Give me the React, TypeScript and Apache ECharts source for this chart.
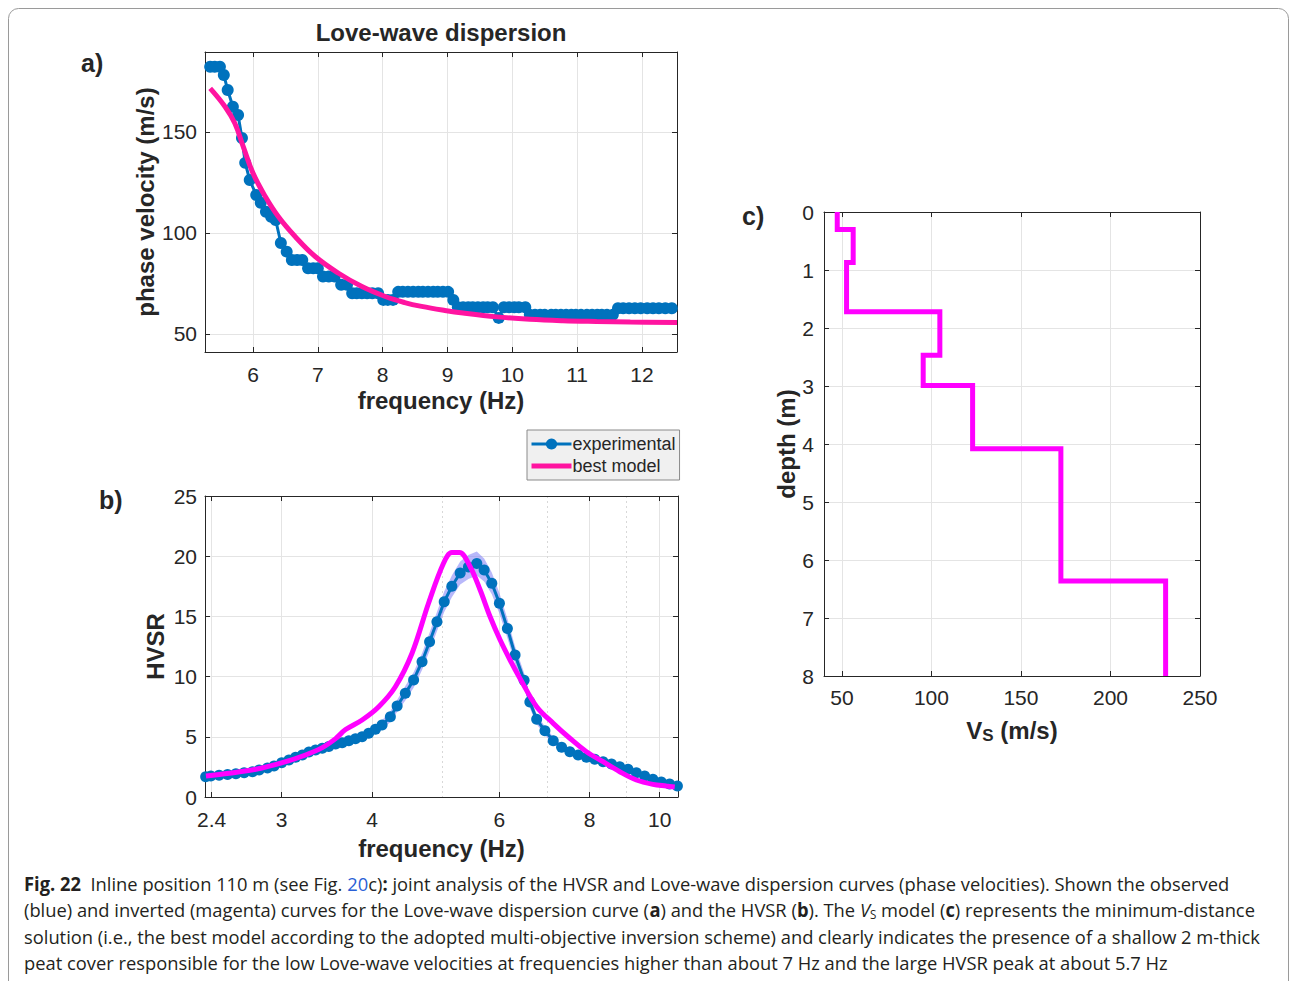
import React, { useEffect, useRef } from "react";
import * as echarts from "echarts";

// ---------- Panel a: Love-wave dispersion ----------
const dispFreq = [5.34, 5.41, 5.49, 5.55, 5.61, 5.69, 5.77, 5.83, 5.88, 5.95, 6.05, 6.12, 6.2, 6.28, 6.35, 6.43, 6.52, 6.6, 6.68, 6.76, 6.85, 6.93, 7.0, 7.08, 7.17, 7.26, 7.36, 7.45, 7.53, 7.6, 7.68, 7.76, 7.84, 7.93, 8.01, 8.08, 8.16, 8.24, 8.31, 8.39, 8.47, 8.55, 8.62, 8.7, 8.78, 8.85, 8.93, 9.01, 9.09, 9.16, 9.24, 9.32, 9.39, 9.47, 9.55, 9.62, 9.7, 9.79, 9.87, 9.95, 10.03, 10.1, 10.2, 10.27, 10.35, 10.43, 10.5, 10.6, 10.67, 10.75, 10.83, 10.91, 10.98, 11.06, 11.15, 11.23, 11.31, 11.38, 11.46, 11.55, 11.63, 11.71, 11.8, 11.89, 11.98, 12.08, 12.17, 12.26, 12.36, 12.46];
const dispVel = [182.3, 182.3, 182.3, 178.2, 170.8, 162.5, 158.4, 147.0, 134.7, 126.2, 118.8, 114.9, 110.5, 108.0, 106.4, 95.0, 90.7, 86.6, 86.6, 86.6, 82.5, 82.5, 82.5, 78.4, 78.4, 78.4, 74.3, 74.3, 70.1, 70.1, 70.1, 70.1, 70.1, 70.1, 66.8, 66.8, 66.8, 70.8, 70.8, 70.8, 70.8, 70.8, 70.8, 70.8, 70.8, 70.8, 70.8, 70.8, 66.8, 63.2, 63.2, 63.2, 63.2, 63.2, 63.2, 63.2, 63.2, 57.9, 63.2, 63.2, 63.2, 63.2, 63.2, 59.4, 59.4, 59.4, 59.4, 59.4, 59.4, 59.4, 59.4, 59.4, 59.4, 59.4, 59.4, 59.4, 59.4, 59.4, 59.4, 59.4, 62.7, 62.7, 62.7, 62.7, 62.7, 62.7, 62.7, 62.7, 62.7, 62.7];
const modelDispFreq = [5.34, 5.57, 5.72, 5.85, 6.0, 6.19, 6.39, 6.65, 6.96, 7.32, 7.68, 8.04, 8.34, 8.6, 8.96, 9.24, 9.76, 10.27, 10.78, 11.3, 11.82, 12.54];
const modelDispVel = [171.6, 162.5, 154.3, 142.7, 129.6, 118.0, 108.1, 98.2, 88.3, 80.0, 73.4, 68.5, 65.5, 63.6, 61.6, 60.3, 58.4, 57.2, 56.5, 56.1, 55.8, 55.6];
const dispXTicks = [6, 7, 8, 9, 10, 11, 12];
const dispYTicks = [50, 100, 150];

// ---------- Panel b: HVSR ----------
const hvsrFreq = [2.355, 2.394, 2.458, 2.525, 2.593, 2.662, 2.734, 2.792, 2.867, 2.928, 3.0, 3.07, 3.136, 3.204, 3.272, 3.342, 3.414, 3.486, 3.562, 3.638, 3.715, 3.795, 3.876, 3.958, 4.044, 4.13, 4.241, 4.333, 4.448, 4.567, 4.691, 4.805, 4.919, 5.034, 5.158, 5.297, 5.438, 5.585, 5.717, 5.858, 6.002, 6.156, 6.309, 6.493, 6.613, 6.758, 6.938, 7.124, 7.317, 7.511, 7.712, 7.92, 8.131, 8.35, 8.577, 8.804, 9.04, 9.284, 9.532, 9.786, 10.05, 10.32, 10.58];
const hvsrVal = [1.69, 1.74, 1.8, 1.86, 1.94, 2.02, 2.1, 2.24, 2.41, 2.57, 2.85, 3.07, 3.3, 3.49, 3.74, 3.9, 4.05, 4.2, 4.4, 4.51, 4.68, 4.84, 5.01, 5.29, 5.62, 5.98, 6.67, 7.56, 8.61, 9.72, 11.24, 12.9, 14.56, 16.22, 17.5, 18.6, 19.1, 19.4, 18.85, 17.75, 16.1, 14.0, 11.8, 9.7, 7.9, 6.45, 5.5, 4.68, 4.13, 3.76, 3.49, 3.3, 3.13, 2.93, 2.74, 2.52, 2.3, 2.02, 1.74, 1.47, 1.25, 1.08, 0.91];
const hvsrStd = [0.15, 0.15, 0.15, 0.15, 0.15, 0.15, 0.15, 0.15, 0.15, 0.15, 0.15, 0.15, 0.15, 0.15, 0.2, 0.2, 0.2, 0.2, 0.2, 0.2, 0.25, 0.25, 0.3, 0.3, 0.35, 0.4, 0.45, 0.5, 0.6, 0.65, 0.7, 0.75, 0.8, 0.85, 0.9, 0.95, 1.0, 1.0, 0.95, 0.9, 0.85, 0.8, 0.7, 0.6, 0.5, 0.4, 0.35, 0.3, 0.25, 0.2, 0.2, 0.2, 0.15, 0.15, 0.15, 0.15, 0.15, 0.15, 0.15, 0.15, 0.15, 0.15, 0.15];
const modelHvsrFreq = [2.357, 2.538, 2.763, 3.007, 3.237, 3.414, 3.562, 3.677, 3.876, 4.087, 4.309, 4.544, 4.789, 5.023, 5.158, 5.284, 5.468, 5.645, 5.827, 6.016, 6.209, 6.409, 6.758, 7.124, 7.511, 7.92, 8.35, 8.804, 9.284, 9.786, 10.21, 10.49];
const modelHvsrVal = [1.74, 1.97, 2.3, 2.85, 3.49, 4.1, 4.85, 5.6, 6.4, 7.5, 9.16, 11.94, 16.09, 19.41, 20.3, 20.3, 19.13, 17.19, 14.97, 13.04, 11.38, 9.85, 7.5, 6.12, 4.88, 3.76, 2.93, 2.1, 1.41, 1.05, 0.91, 0.83];
const hvsrXTicks = [2.4, 3, 4, 6, 8, 10];
const hvsrMinorGrid = [5, 7, 9];
const hvsrYTicks = [0, 5, 10, 15, 20, 25];

// ---------- Panel c: Vs model ----------
const layerVs = [47.4, 56.3, 52.6, 104.7, 95.4, 123.0, 172.3, 230.8];
const layerBounds = [0, 0.3, 0.87, 1.72, 2.47, 2.99, 4.08, 6.36, 8];
const vsXTicks = [50, 100, 150, 200, 250];
const depthTicks = [0, 1, 2, 3, 4, 5, 6, 7, 8];

// ---------- styles ----------
const AX = "#262626";
const GRID_C = "#e4e4e4";
const FONT = "'Liberation Sans', Arial, Helvetica, sans-serif";
const CAP_FONT = "'Open Sans', 'Noto Sans', sans-serif";
const BLUE = "#0072BD";
const PINK = "#ff14a0";
const MAGENTA = "#ff00ff";

const lg = (v: number) => Math.log10(v);

function boxAxis(grid: number, pos: string, min: number, max: number, ticks: number[], extra: any = {}) {
  return {
    type: "value",
    gridIndex: grid,
    position: pos,
    min,
    max,
    axisLine: { show: true, onZero: false, lineStyle: { color: AX, width: 1 } },
    axisTick: { show: true, inside: true, length: 5, customValues: ticks, lineStyle: { color: AX, width: 1 } },
    axisLabel: { show: false, customValues: ticks },
    splitLine: { show: false },
    ...extra,
  };
}

const tickLabel = { show: true, fontSize: 21, color: AX, fontFamily: FONT };
const nameStyle = { fontSize: 24, fontWeight: "bold", color: AX, fontFamily: FONT };
const gridLine = { show: true, lineStyle: { color: GRID_C, width: 1 } };

function buildOption() {
  const dispData = dispFreq.map((f, i) => [f, dispVel[i]]);
  const modelDispData = modelDispFreq.map((f, i) => [f, modelDispVel[i]]);
  const hvsrData = hvsrFreq.map((f, i) => [lg(f), hvsrVal[i]]);
  const modelHvsrData = modelHvsrFreq.map((f, i) => [lg(f), modelHvsrVal[i]]);
  const vsData: number[][] = [];
  layerVs.forEach((v, i) => {
    vsData.push([v, layerBounds[i]]);
    vsData.push([v, layerBounds[i + 1]]);
  });

  const hvMin = lg(2.35);
  const hvMax = lg(10.6);
  const hvTicks = hvsrXTicks.map(lg);

  const capRich = {
    b: { fontWeight: "bold", fontSize: 19, fontFamily: CAP_FONT, fill: "#231f20", lineHeight: 26 },
    l: { fontSize: 19, fontFamily: CAP_FONT, fill: "#2a5fd6", lineHeight: 26 },
    i: { fontStyle: "italic", fontSize: 19, fontFamily: CAP_FONT, fill: "#231f20", lineHeight: 26 },
    sub: { fontSize: 12, fontFamily: CAP_FONT, fill: "#231f20", lineHeight: 17, padding: [9, 0, 0, 0] },
  };
  const capLines = [
    "{b|Fig. 22}  Inline position 110 m (see Fig. {l|20}c){b|:} joint analysis of the HVSR and Love-wave dispersion curves (phase velocities). Shown the observed",
    "(blue) and inverted (magenta) curves for the Love-wave dispersion curve ({b|a}) and the HVSR ({b|b}). The {i|V}{sub|S} model ({b|c}) represents the minimum-distance",
    "solution (i.e., the best model according to the adopted multi-objective inversion scheme) and clearly indicates the presence of a shallow 2 m-thick",
    "peat cover responsible for the low Love-wave velocities at frequencies higher than about 7 Hz and the large HVSR peak at about 5.7 Hz",
  ];

  return {
    animation: false,
    backgroundColor: "#ffffff",
    textStyle: { fontFamily: FONT },
    grid: [
      { left: 205, top: 52, width: 472, height: 300, containLabel: false },
      { left: 205, top: 496, width: 473, height: 301, containLabel: false },
      { left: 824, top: 212, width: 376, height: 464, containLabel: false },
    ],
    legend: {
      data: [
        { name: "experimental" },
        { name: "best model", icon: "path://M0,0L40,0L40,5L0,5Z" },
      ],
      orient: "vertical",
      left: 527,
      top: 430,
      backgroundColor: "#f0f0f0",
      borderColor: "#8a8a8a",
      borderWidth: 1,
      borderRadius: 0,
      padding: [5, 4, 5, 3],
      itemGap: 4,
      itemWidth: 40,
      itemHeight: 14,
      selectedMode: false,
      symbolKeepAspect: true,
      lineStyle: { width: "inherit" },
      textStyle: { fontSize: 18, color: AX, fontFamily: FONT, padding: [0, 0, 0, -4] },
    },
    xAxis: [
      boxAxis(0, "bottom", 5.26, 12.54, dispXTicks, {
        axisLabel: { ...tickLabel, customValues: dispXTicks, margin: 12 },
        splitLine: gridLine,
        name: "frequency (Hz)",
        nameLocation: "middle",
        nameGap: 36,
        nameTextStyle: nameStyle,
      }),
      boxAxis(0, "top", 5.26, 12.54, dispXTicks),
      boxAxis(1, "bottom", hvMin, hvMax, hvTicks, {
        axisLabel: {
          ...tickLabel,
          customValues: hvTicks,
          margin: 12,
          formatter: (v: number) => String(Math.round(Math.pow(10, v) * 10) / 10),
        },
        splitLine: gridLine,
        name: "frequency (Hz)",
        nameLocation: "middle",
        nameGap: 39,
        nameTextStyle: nameStyle,
      }),
      boxAxis(1, "top", hvMin, hvMax, hvTicks),
      {
        type: "value",
        gridIndex: 1,
        position: "bottom",
        min: hvMin,
        max: hvMax,
        axisLine: { show: false, onZero: false },
        axisTick: { show: false, customValues: hvsrMinorGrid.map(lg) },
        axisLabel: { show: false, customValues: hvsrMinorGrid.map(lg) },
        splitLine: { show: true, lineStyle: { color: "#d8d8d8", width: 1, type: [2, 3] } },
      },
      boxAxis(2, "bottom", 40, 250, vsXTicks, {
        axisLabel: { ...tickLabel, customValues: vsXTicks, margin: 11 },
        splitLine: gridLine,
        name: "{v|V}{s|S}{v| (m/s)}",
        nameLocation: "middle",
        nameGap: 40,
        nameTextStyle: {
          ...nameStyle,
          rich: {
            v: { fontSize: 24, fontWeight: "bold", color: AX, fontFamily: FONT, lineHeight: 28 },
            s: { fontSize: 17, fontWeight: "bold", color: AX, fontFamily: FONT, lineHeight: 18, padding: [10, 0, 0, 0] },
          },
        },
      }),
      boxAxis(2, "top", 40, 250, vsXTicks),
    ],
    yAxis: [
      boxAxis(0, "left", 41, 189.6, dispYTicks, {
        axisLabel: { ...tickLabel, customValues: dispYTicks, margin: 8 },
        splitLine: gridLine,
        name: "phase velocity (m/s)",
        nameLocation: "middle",
        nameGap: 48,
        nameTextStyle: nameStyle,
      }),
      boxAxis(0, "right", 41, 189.6, dispYTicks),
      boxAxis(1, "left", 0, 25, hvsrYTicks, {
        axisLabel: { ...tickLabel, customValues: hvsrYTicks, margin: 8 },
        splitLine: gridLine,
        name: "HVSR",
        nameLocation: "middle",
        nameGap: 38,
        nameTextStyle: nameStyle,
      }),
      boxAxis(1, "right", 0, 25, hvsrYTicks),
      boxAxis(2, "left", 0, 8, depthTicks, {
        inverse: true,
        axisLabel: { ...tickLabel, customValues: depthTicks, margin: 10 },
        splitLine: gridLine,
        name: "depth (m)",
        nameLocation: "middle",
        nameGap: 24,
        nameTextStyle: nameStyle,
      }),
      boxAxis(2, "right", 0, 8, depthTicks, { inverse: true }),
    ],
    series: [
      {
        name: "experimental",
        type: "line",
        xAxisIndex: 0,
        yAxisIndex: 0,
        data: dispData,
        symbol: "circle",
        symbolSize: 12,
        lineStyle: { color: BLUE, width: 3 },
        itemStyle: { color: BLUE },
        z: 3,
      },
      {
        name: "best model",
        type: "line",
        xAxisIndex: 0,
        yAxisIndex: 0,
        data: modelDispData,
        smooth: 0.4,
        showSymbol: false,
        symbol: "none",
        lineStyle: { color: PINK, width: 5 },
        itemStyle: { color: PINK },
        z: 4,
      },
      {
        name: "HVSR band",
        type: "custom",
        xAxisIndex: 2,
        yAxisIndex: 2,
        data: hvsrData,
        encode: { x: 0, y: 1 },
        silent: true,
        z: 2,
        renderItem: (params: any, api: any) => {
          if (params.dataIndex !== 0) return null;
          const upper = hvsrFreq.map((f, i) => api.coord([lg(f), hvsrVal[i] + hvsrStd[i]]));
          const lower = hvsrFreq.map((f, i) => api.coord([lg(f), hvsrVal[i] - hvsrStd[i]])).reverse();
          return {
            type: "polygon",
            shape: { points: upper.concat(lower) },
            style: { fill: "rgba(125,125,245,0.55)", stroke: "none" },
          };
        },
      },
      {
        name: "HVSR experimental",
        type: "line",
        xAxisIndex: 2,
        yAxisIndex: 2,
        data: hvsrData,
        symbol: "circle",
        symbolSize: 11,
        lineStyle: { color: BLUE, width: 3 },
        itemStyle: { color: BLUE },
        z: 3,
      },
      {
        name: "HVSR best model",
        type: "line",
        xAxisIndex: 2,
        yAxisIndex: 2,
        data: modelHvsrData,
        smooth: 0.35,
        symbol: "none",
        lineStyle: { color: MAGENTA, width: 5 },
        z: 4,
      },
      {
        name: "Vs model",
        type: "line",
        xAxisIndex: 5,
        yAxisIndex: 4,
        data: vsData,
        symbol: "none",
        lineStyle: { color: MAGENTA, width: 5, join: "miter" },
        z: 4,
      },
    ],
    graphic: [
      {
        type: "rect",
        silent: true,
        z: -10,
        shape: { x: 8.5, y: 8.5, width: 1280, height: 1000, r: 10 },
        style: { fill: "none", stroke: "#9a9a9a", lineWidth: 1 },
      },
      {
        type: "text",
        x: 441,
        y: 20,
        style: { text: "Love-wave dispersion", fontSize: 24, fontWeight: "bold", fontFamily: FONT, fill: AX, align: "center" },
      },
      { type: "text", x: 81, y: 50, style: { text: "a)", fontSize: 25, fontWeight: "bold", fontFamily: FONT, fill: AX } },
      { type: "text", x: 99, y: 487, style: { text: "b)", fontSize: 25, fontWeight: "bold", fontFamily: FONT, fill: AX } },
      { type: "text", x: 742, y: 203, style: { text: "c)", fontSize: 25, fontWeight: "bold", fontFamily: FONT, fill: AX } },
      ...capLines.map((t, i) => ({
        type: "text",
        x: 24,
        y: 870 + i * 26.5,
        scaleX: 0.965,
        style: {
          text: t,
          fontSize: 19,
          fontFamily: CAP_FONT,
          fill: "#231f20",
          lineHeight: 26,
          rich: capRich,
        },
      })),
    ],
  };
}

export default function App() {
  const ref = useRef<HTMLDivElement>(null);
  useEffect(() => {
    if (!ref.current) return;
    const chart = echarts.init(ref.current, null, { renderer: "svg" });
    chart.setOption(buildOption() as any);
    return () => chart.dispose();
  }, []);
  return (
    <div
      ref={ref}
      style={{ position: "fixed", left: 0, top: 0, width: 1291, height: 981, background: "#ffffff" }}
    />
  );
}
